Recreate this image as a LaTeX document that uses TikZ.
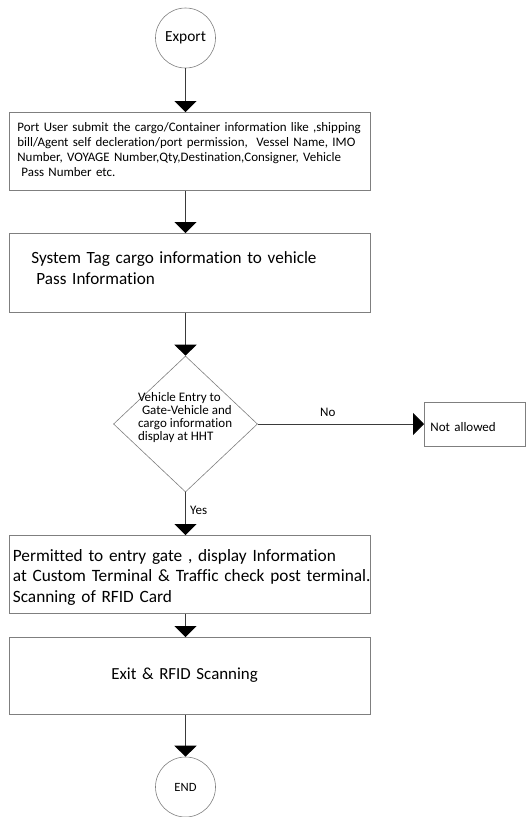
\documentclass[tikz,border=0pt]{standalone}
\usepackage{fontspec}
\setmainfont[Ligatures=NoCommon]{Carlito}
\usetikzlibrary{arrows.meta,shapes.geometric}

\definecolor{edgegray}{HTML}{7F7F7F}
\definecolor{linegray}{HTML}{3A3A3A}

% keeps one line of a box text together
\newcommand{\oneline}[1]{\mbox{#1}}

\tikzset{
  proc/.style={draw=edgegray, line width=0.75pt, rectangle, anchor=north west,
               inner ysep=0pt, align=left},
  term/.style={draw=edgegray, line width=0.6pt, circle, minimum size=60pt, inner sep=0pt},
  decision/.style={draw=edgegray, line width=0.6pt, diamond, minimum width=144pt,
                   minimum height=136pt, inner sep=0pt},
  flow/.style={draw=linegray, line width=0.9pt,
               -{Triangle[width=22pt,length=11pt,fill=black,color=black]}},
  lbl/.style={inner sep=0pt, anchor=base west, font=\fontsize{13}{13}\selectfont},
}

\begin{document}
\begin{tikzpicture}[x=1pt, y=-1pt]
\useasboundingbox (0,0) rectangle (526,817);

% terminals
\node[term, font=\fontsize{15.4}{16}\selectfont] (e) at (185.5,38) {Export};
\node[term, font=\fontsize{12.6}{13}\selectfont] (end) at (185.5,787) {END};

% process boxes
\node[proc, inner xsep=8pt, text width=345pt, text height=19pt, text depth=59pt,
      font=\fontsize{12.95}{15}\selectfont] (b1) at (9,112)
  {\oneline{Port User submit the cargo/Container information like ,shipping}\\
   \oneline{bill/Agent self decleration/port permission,\ \ Vessel Name, IMO}\\
   \oneline{Number, VOYAGE Number,Qty,Destination,Consigner, Vehicle}\\
   \oneline{\hspace*{4pt}Pass Number etc.}};

\node[proc, inner xsep=22pt, text width=317pt, text height=30.3pt, text depth=48.7pt,
      font=\fontsize{17.15}{21}\selectfont] (b2) at (9,233)
  {\oneline{System Tag cargo information to vehicle}\\
   \oneline{\hspace*{5pt}Pass Information}};

\node[decision] (d) at (185.5,424)
  {\makebox[0pt]{\raisebox{4pt}[0pt][0pt]{\parbox{95pt}{\raggedright
     \fontsize{13}{12.9}\selectfont
     Vehicle Entry to\\
     \hspace*{4pt}Gate-Vehicle and\\
     cargo information\\
     display at HHT}}}};

\node[proc, inner xsep=6pt, text width=89pt, text height=28.7pt, text depth=15.3pt,
      font=\fontsize{13}{13}\selectfont] (na) at (424,402) {Not allowed};

\node[proc, inner xsep=3.5pt, text width=354pt, text height=25.7pt, text depth=52.3pt,
      font=\fontsize{17.3}{20.5}\selectfont] (b3) at (9,535)
  {\oneline{Permitted to entry gate , display Information}\\
   \oneline{at Custom Terminal \& Traffic check post terminal.}\\
   \oneline{Scanning of RFID Card}};

\node[proc, inner xsep=102pt, text width=157pt, text height=42.3pt, text depth=34.7pt,
      font=\fontsize{16.9}{21}\selectfont] (b4) at (9,637)
  {\oneline{Exit \& RFID Scanning}};

% decision labels
\node[lbl] (no) at (320,416.7) {No};
\node[lbl] (yes) at (190,514) {Yes};

% connectors
\draw[flow] (e.south) -- (e.south |- b1.north);
\draw[flow] (b1.south -| e) -- (b2.north -| e);
\draw[flow] (b2.south -| e) -- (d.north);
\draw[flow] (d.east) -- (d.east -| na.west);
\draw[flow] (d.south) -- (d.south |- b3.north);
\draw[flow] (b3.south -| e) -- (b4.north -| e);
\draw[flow] (b4.south -| e) -- (end.north);
\end{tikzpicture}
\end{document}
